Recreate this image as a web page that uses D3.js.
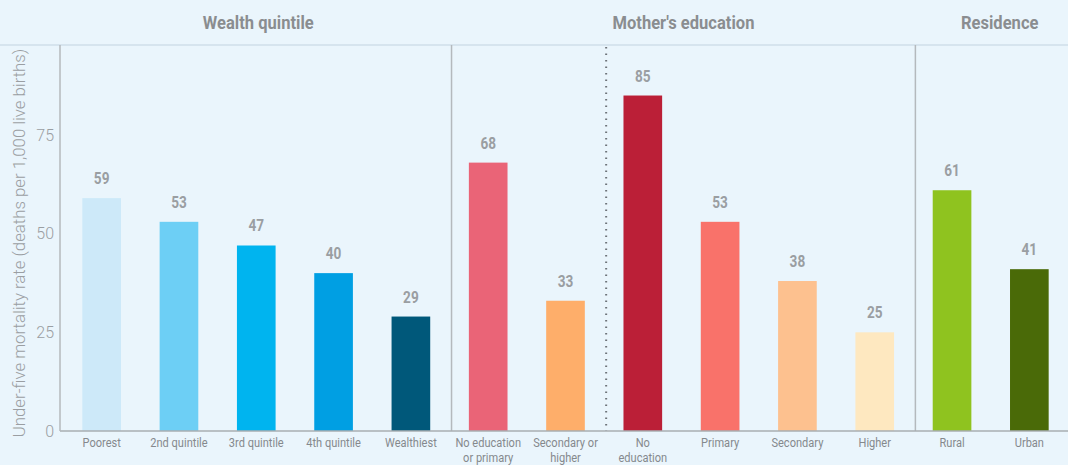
<!DOCTYPE html>
<html lang="en">
<head>
    <meta charset="UTF-8">
    <title>under-five mortality</title>
    <script src="https://cdn.jsdelivr.net/npm/d3@7"></script>
    <style>
        body { margin: 0; background: #eaf5fc; }
        svg { display: block; }
    </style>
</head>
<body>
<div id="container"></div>
<script>
    // 数据
    const categories = ["Poorest", "2nd quintile", "3rd quintile", "4th quintile", "Wealthiest",
        "No education|or primary", "Secondary or|higher",
        "No|education", "Primary", "Secondary", "Higher",
        "Rural", "Urban"];
    const values = [59, 53, 47, 40, 29, 68, 33, 85, 53, 38, 25, 61, 41];
    const barColors = ["#cde9f9", "#6dcff5", "#00b4ef", "#009fe3", "#00587a",
        "#ea6477", "#feae6a", "#bb1f37", "#f9726a", "#fdc18f", "#fee8c0",
        "#8fc31f", "#4a6a08"];
    const groups = [
        {name: "Wealth quintile", from: 0, to: 4},
        {name: "Mother's education", from: 5, to: 10},
        {name: "Residence", from: 11, to: 12}
    ];
    const yTicks = [0, 25, 50, 75];
    const yLabel = "Under-five mortality rate (deaths per 1,000 live births)";

    const width = 1068;
    const height = 465;
    const margin = {top: 45, right: 0, bottom: 34, left: 63};
    const narrow = 0.82; // 模拟窄体字

    const svg = d3.select("#container")
        .append("svg")
        .attr("width", width)
        .attr("height", height);

    svg.append("rect")
        .attr("width", width)
        .attr("height", height)
        .attr("fill", "#eaf5fc");

    const x = d3.scaleBand()
        .domain(d3.range(categories.length))
        .range([margin.left, width - margin.right])
        .paddingInner(0.5)
        .paddingOuter(0.25);
    const step = x.step();
    const y = d3.scaleLinear()
        .domain([0, 97.8])
        .range([height - margin.bottom, margin.top]);

    // 顶部横线
    svg.append("line")
        .attr("x1", 0).attr("x2", width)
        .attr("y1", margin.top).attr("y2", margin.top)
        .attr("stroke", "#d6e4ee").attr("stroke-width", 2);

    // 分组分隔线
    const edge = i => x(i) - step * x.paddingInner() / 2 + 2;
    [5, 11].forEach(i => {
        svg.append("line")
            .attr("x1", edge(i)).attr("x2", edge(i))
            .attr("y1", margin.top).attr("y2", y(0))
            .attr("stroke", "#b4b9bd").attr("stroke-width", 1.5);
    });
    svg.append("line")
        .attr("x1", edge(7)).attr("x2", edge(7))
        .attr("y1", margin.top + 2).attr("y2", y(0))
        .attr("stroke", "#6d7378").attr("stroke-width", 2)
        .attr("stroke-dasharray", "1.5,5");

    // 柱子
    svg.selectAll(".bar")
        .data(values)
        .join("rect")
        .attr("class", "bar")
        .attr("x", (d, i) => x(i))
        .attr("width", x.bandwidth())
        .attr("y", d => y(d))
        .attr("height", d => y(0) - y(d))
        .attr("fill", (d, i) => barColors[i]);

    // 数值标注
    svg.selectAll(".val")
        .data(values)
        .join("text")
        .attr("class", "val")
        .attr("transform", (d, i) => `translate(${x(i) + x.bandwidth() / 2}, ${y(d) - 14}) scale(0.8, 1)`)
        .attr("text-anchor", "middle")
        .attr("font-family", "'Roboto', sans-serif")
        .attr("font-weight", "bold")
        .attr("font-size", 17)
        .attr("fill", "#9a9ea2")
        .text(d => d);

    // 坐标轴
    svg.append("line")
        .attr("x1", margin.left - 3).attr("x2", width)
        .attr("y1", y(0)).attr("y2", y(0))
        .attr("stroke", "#a9aeb2").attr("stroke-width", 1.5);
    svg.append("line")
        .attr("x1", margin.left - 3).attr("x2", margin.left - 3)
        .attr("y1", margin.top).attr("y2", y(0))
        .attr("stroke", "#b4b9bd").attr("stroke-width", 1.5);

    svg.selectAll(".ytick")
        .data(yTicks)
        .join("text")
        .attr("class", "ytick")
        .attr("x", 54)
        .attr("y", d => y(d))
        .attr("dy", "0.35em")
        .attr("text-anchor", "end")
        .attr("font-family", "'Roboto', sans-serif")
        .attr("font-weight", 300)
        .attr("font-size", 16)
        .attr("fill", "#9a9ea2")
        .text(d => d);

    svg.append("text")
        .attr("transform", `translate(25, ${(margin.top + y(0)) / 2 + 5}) rotate(-90)`)
        .attr("text-anchor", "middle")
        .attr("font-family", "'Roboto', sans-serif")
        .attr("font-weight", 300)
        .attr("font-size", 16.8)
        .attr("fill", "#9a9ea2")
        .text(yLabel);

    // 类别标签
    const cat = svg.selectAll(".cat")
        .data(categories)
        .join("text")
        .attr("class", "cat")
        .attr("transform", (d, i) => `translate(${x(i) + x.bandwidth() / 2}, 447) scale(${narrow}, 1)`)
        .attr("text-anchor", "middle")
        .attr("font-family", "'Roboto', sans-serif")
        .attr("font-size", 13.5)
        .attr("fill", "#85898d");
    cat.each(function (d) {
        const lines = d.split("|");
        const t = d3.select(this);
        lines.forEach((l, k) => {
            t.append("tspan")
                .attr("x", 0)
                .attr("dy", k === 0 ? 0 : 15)
                .text(l);
        });
    });

    // 分组标题
    svg.selectAll(".grp")
        .data(groups)
        .join("text")
        .attr("class", "grp")
        .attr("transform", d => {
            const last = d.to === categories.length - 1;
            const cx = (edge(d.from) + (last ? width : edge(d.to + 1))) / 2 + (last ? 8 : 0);
            return `translate(${cx}, 29) scale(0.92, 1)`;
        })
        .attr("text-anchor", "middle")
        .attr("font-family", "'Roboto', sans-serif")
        .attr("font-weight", "bold")
        .attr("font-size", 18)
        .attr("fill", "#8a8d90")
        .text(d => d.name);
</script>
</body>
</html>
